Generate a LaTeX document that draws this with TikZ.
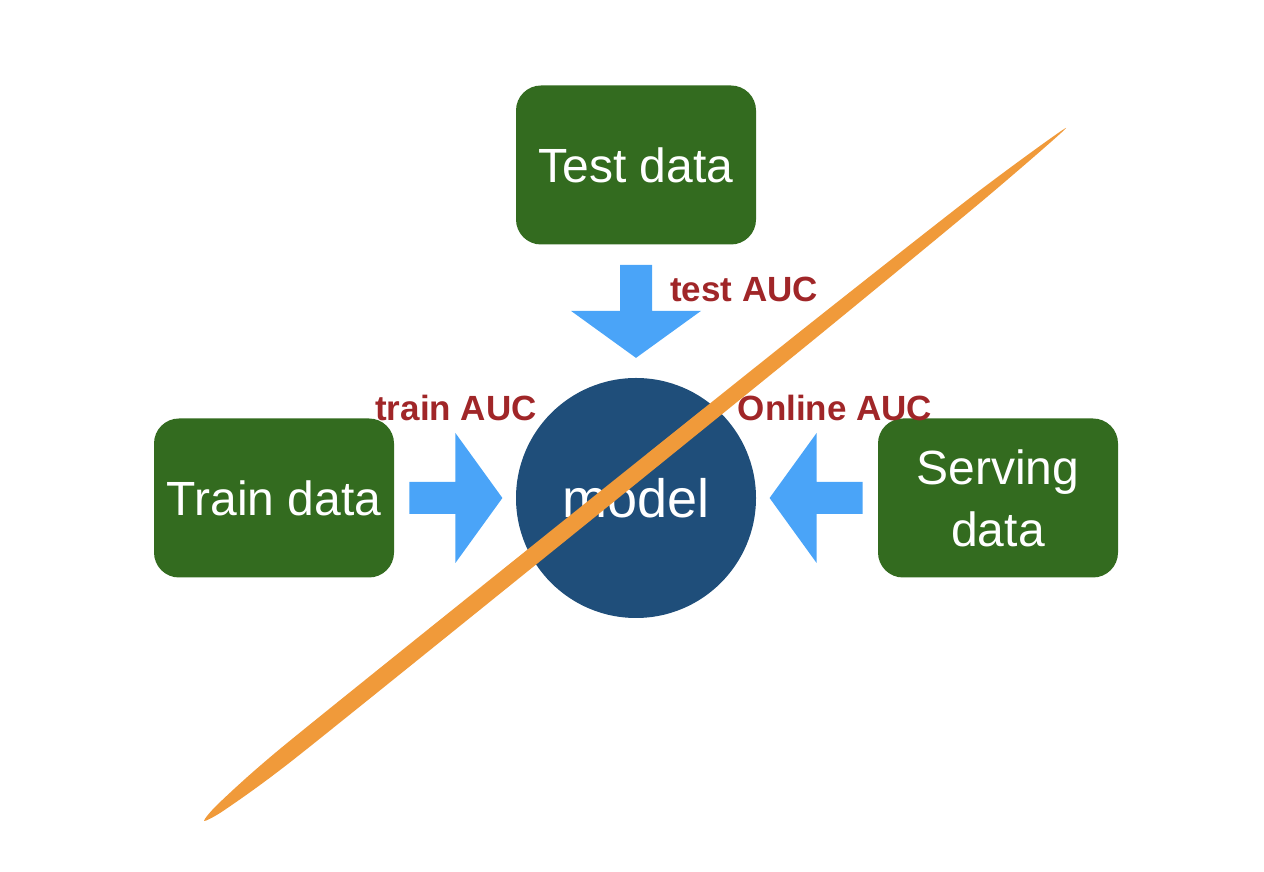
\documentclass[tikz,border=0pt]{standalone}
\usepackage{fontspec}
\setmainfont{Liberation Sans}
\usetikzlibrary{calc}
\definecolor{boxgreen}{RGB}{51,107,31}
\definecolor{modelblue}{RGB}{31,78,122}
\definecolor{arrowblue}{RGB}{74,164,248}
\definecolor{aucred}{RGB}{160,38,40}
\definecolor{crossorange}{RGB}{240,154,58}
\tikzset{
  databox/.style={fill=boxgreen,text=white,rounded corners=12.5pt,minimum width=120pt,
    minimum height=79.5pt,align=center,font=\fontsize{24}{31}\selectfont},
  auclabel/.style={text=aucred,font=\bfseries\fontsize{17.5}{20}\selectfont},
  blockarrow/.pic={\fill[arrowblue] (0,-16) -- (46,-16) -- (46,-65) -- (93,0) -- (46,65) -- (46,16) -- (0,16) -- cycle;}
}
\begin{document}
\begin{tikzpicture}[x=0.5pt,y=0.5pt]
\useasboundingbox (0,0) rectangle (1264,872);
  \node (test) at (636,707) [databox] {Test data};
  \node (train) at (274,374) [databox] {Train data};
  \node (serving) at (998,374) [databox] {Serving\\data};
  \node (model) at (636,374) [circle,fill=modelblue,text=white,minimum size=120pt,inner sep=0pt,
    font=\fontsize{27}{32}\selectfont] {model};
  % arrows into the model
  \pic at ($(test.south)+(0,-20)$) [rotate=-90] {blockarrow};
  \pic at ($(train.east)+(15,0)$) {blockarrow};
  \pic at ($(serving.west)+(-15,0)$) [rotate=180] {blockarrow};
  \node (testauc) at (744,583) [auclabel] {test AUC};
  \node (trainauc) at (456,464) [auclabel] {train AUC};
  \node (onlineauc) at (835,464) [auclabel] {Online AUC};
  % crossed out
  \fill[crossorange] plot[smooth cycle,tension=0.4] coordinates {(225,62.3) (296.3,114.6) (554.3,322.2)
    (811.7,530.6) (982.1,670.9) (1066,744) (976,678.7) (802.3,542.2) (543.7,335.4) (285.7,127.8)
    (219.4,69.3) (204,51)};
\end{tikzpicture}
\end{document}
